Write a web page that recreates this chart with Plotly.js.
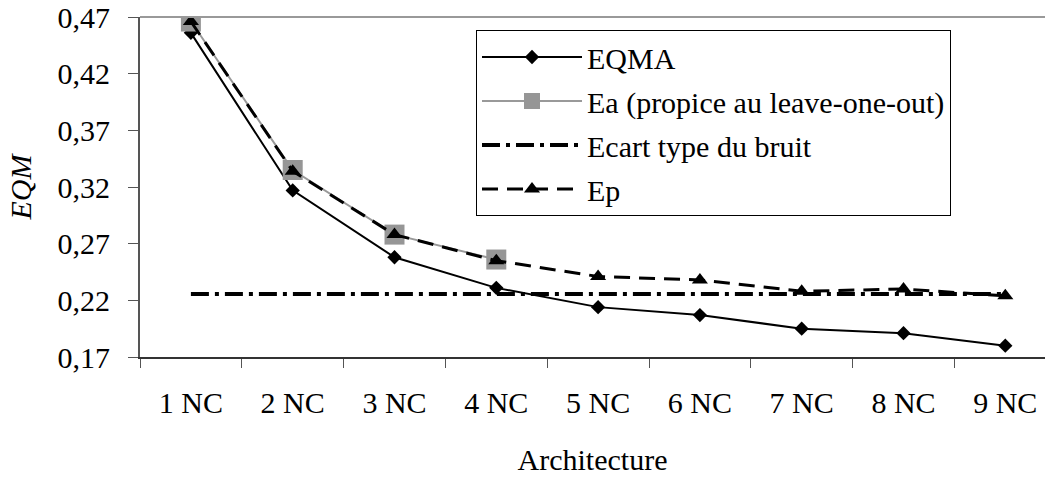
<!DOCTYPE html>
<html>
<head>
<meta charset="utf-8">
<script src="https://cdn.plot.ly/plotly-3.0.1.min.js"></script>
<style>html,body{margin:0;padding:0;overflow:hidden;background:#fff;}</style>
</head>
<body>
<div id="chart" style="width:1045px;height:481px;"></div>
<script>
// Data
const categories = ["1 NC","2 NC","3 NC","4 NC","5 NC","6 NC","7 NC","8 NC","9 NC"];
const eqma = [0.456, 0.317, 0.258, 0.231, 0.214, 0.207, 0.195, 0.191, 0.180];
const eaCategories = ["1 NC","2 NC","3 NC","4 NC"];
const ea = [0.466, 0.335, 0.278, 0.256];
const noiseStd = [0.2255, 0.2255, 0.2255, 0.2255, 0.2255, 0.2255, 0.2255, 0.2255, 0.2255];
const ep = [0.466, 0.334, 0.278, 0.255, 0.241, 0.238, 0.228, 0.230, 0.224];
const yTickVals = [0.17, 0.22, 0.27, 0.32, 0.37, 0.42, 0.47];

const serif = "Liberation Serif";

const traces = [
  {x: categories, y: eqma, name: "EQMA", type: "scatter", mode: "lines+markers",
   legendgroup: "a",
   line: {color: "#000", width: 2},
   marker: {symbol: "diamond", size: 11, color: "#000"}},
  {x: eaCategories, y: ea, name: "Ea (propice au leave-one-out)", type: "scatter", mode: "lines+markers",
   legendgroup: "b",
   line: {color: "#999", width: 2},
   marker: {symbol: "square", size: 20, color: "#969696"}},
  {x: categories, y: noiseStd, name: "Ecart type du bruit", type: "scatter", mode: "lines",
   legendgroup: "c",
   line: {color: "#000", width: 4, dash: "18px,6px,4px,6px"}},
  {x: categories, y: ep, name: "Ep", type: "scatter", mode: "lines+markers",
   legendgroup: "d",
   line: {color: "#000", width: 3, dash: "16px,9px"},
   marker: {symbol: "triangle-up", size: 14, color: "#000"}}
];

const layout = {
  width: 1045, height: 481,
  margin: {l: 140, r: 0, t: 17, b: 124},
  paper_bgcolor: "#fff", plot_bgcolor: "#fff",
  separators: ", ",
  font: {family: serif, size: 30, color: "#000"},
  showlegend: true,
  legend: {
    x: (476-140)/905, xref: "paper", y: 1 - (30-17)/340, yanchor: "top", xanchor: "left",
    bgcolor: "#fff", bordercolor: "#000", borderwidth: 1,
    font: {family: serif, size: 30, color: "#000"},
    traceorder: "grouped", tracegroupgap: 2, itemwidth: 100
  },
  xaxis: {
    type: "category", range: [-0.5, 8.39],
    tickson: "boundaries", ticks: "outside", ticklen: 9, tickcolor: "#555", tickwidth: 1,
    showline: true, linecolor: "#333", linewidth: 2,
    showgrid: false, zeroline: false, ticklabelstandoff: 18,
    tickfont: {family: serif, size: 30, color: "#000"},
    title: {text: "Architecture", font: {family: serif, size: 30, color: "#000"}, standoff: 31}
  },
  yaxis: {
    range: [0.17, 0.47], tickvals: yTickVals, tickformat: ".2f",
    ticks: "outside", ticklen: 10, tickcolor: "#555", tickwidth: 1,
    showline: true, linecolor: "#555", linewidth: 2,
    showgrid: false, zeroline: false, ticklabelstandoff: 12,
    tickfont: {family: serif, size: 30, color: "#000"},
    title: {text: "<i>EQM</i>", font: {family: serif, size: 30, color: "#000"}, standoff: 17}
  },
  shapes: [
    {type: "line", xref: "paper", yref: "paper", x0: 0, x1: 1, y0: 1, y1: 1,
     line: {color: "#999", width: 2}}
  ]
};

Plotly.newPlot("chart", traces, layout, {displayModeBar: false, staticPlot: true});
</script>
</body>
</html>
